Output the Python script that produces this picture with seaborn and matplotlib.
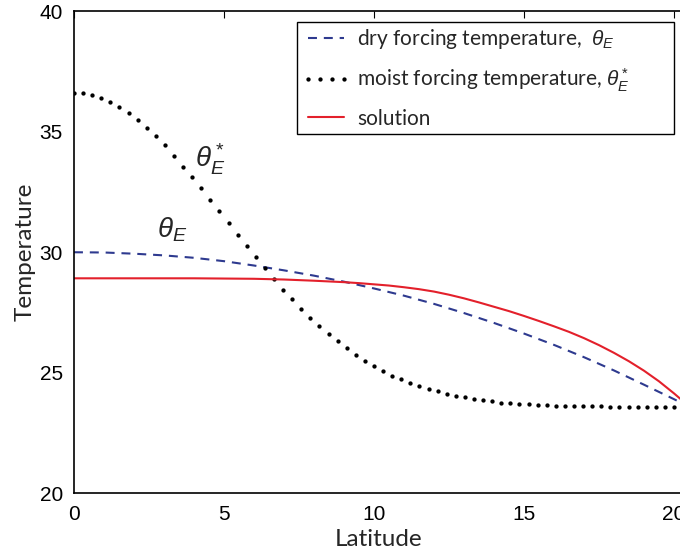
import numpy as np
import seaborn as sns
import matplotlib.pyplot as plt

# ---- data ----
lat = [0, 1, 2, 3, 4, 5, 6, 7, 8, 9, 10, 11, 12, 13, 14, 15, 16, 17, 18, 19, 20, 20.3]
dry_forcing = [30.00, 29.99, 29.94, 29.87, 29.77, 29.63, 29.45, 29.25, 29.03, 28.78, 28.50,
               28.20, 27.86, 27.48, 27.07, 26.63, 26.16, 25.65, 25.10, 24.51, 23.91, 23.72]

lat_sol = [0, 2, 4, 5, 6, 7, 8, 8.5, 9, 9.5, 10, 10.5, 11, 11.5, 12, 12.5, 13, 13.5, 14,
           14.5, 15, 15.5, 16, 16.5, 17, 17.5, 18, 18.5, 19, 19.5, 20, 20.3]
solution = [28.92, 28.92, 28.92, 28.91, 28.90, 28.87, 28.82, 28.79, 28.76, 28.72, 28.67,
            28.62, 28.55, 28.47, 28.37, 28.24, 28.09, 27.92, 27.74, 27.56, 27.36, 27.15,
            26.93, 26.70, 26.44, 26.15, 25.83, 25.48, 25.09, 24.65, 24.15, 23.83]

# moist forcing is drawn as dots on an evenly spaced latitude grid (67 points, 0..20)
lat_moist = np.linspace(0, 20, 67)
moist_forcing = [36.62, 36.60, 36.52, 36.39, 36.22, 36.02, 35.76, 35.47, 35.15, 34.81,
                 34.44, 33.99, 33.55, 33.10, 32.65, 32.17, 31.69, 31.21, 30.73, 30.27,
                 29.80, 29.34, 28.89, 28.42, 28.05, 27.65, 27.27, 26.93, 26.61, 26.31,
                 26.02, 25.75, 25.51, 25.29, 25.08, 24.89, 24.74, 24.58, 24.46, 24.34,
                 24.23, 24.14, 24.06, 23.99, 23.93, 23.87, 23.82, 23.77, 23.74, 23.71,
                 23.69, 23.67, 23.65, 23.64, 23.63, 23.63, 23.62, 23.61, 23.61, 23.60,
                 23.60, 23.60, 23.60, 23.60, 23.60, 23.60, 23.60]

x_ticks = [0, 5, 10, 15, 20]
y_ticks = [20, 25, 30, 35, 40]

sns.set_style("white")
plt.rcParams['mathtext.fontset'] = 'custom'
plt.rcParams['mathtext.it'] = 'Liberation Sans:italic'
plt.rcParams['mathtext.rm'] = 'Liberation Sans'

fig = plt.figure(figsize=(6.8, 5.53), dpi=100)
ax = fig.add_axes([0.1088, 0.1076, 0.8956, 0.8725])

sns.lineplot(x=lat, y=dry_forcing, ax=ax, color='#2e3a8f', linewidth=1.5,
             linestyle=(0, (4.3, 3.3)), label='dry forcing temperature,  $\\theta_E$')
sns.lineplot(x=lat_moist, y=moist_forcing, ax=ax, color='black', linestyle='',
             marker='o', markersize=3.1, markeredgewidth=0,
             label='moist forcing temperature, $\\theta_E^*$')
sns.lineplot(x=lat_sol, y=solution, ax=ax, color='#e3202b', linewidth=1.5, label='solution')

ax.set_xlim(0, 20.3)
ax.set_ylim(20, 40)
ax.set_xticks(x_ticks)
ax.set_yticks(y_ticks)
ax.tick_params(direction='in', length=5, width=0.8, top=True, right=False,
               labelsize=15, pad=8, colors='black')
for lbl in ax.get_xticklabels() + ax.get_yticklabels():
    lbl.set_fontfamily('Liberation Sans')
for sp in ax.spines.values():
    sp.set_color('black')
    sp.set_linewidth(1.2)

ax.set_xlabel('Latitude', fontsize=17.5, fontfamily='Lato', labelpad=4)
ax.set_ylabel('Temperature', fontsize=17.5, fontfamily='Lato', labelpad=3)

# curve annotations
ax.text(4.03, 33.5, '$\\theta_E^*$', fontsize=20, va='baseline', ha='left')
ax.text(2.77, 30.63, '$\\theta_E$', fontsize=20, va='baseline', ha='left')

# legend stretched to the same box as the reference (extra room on the right)
leg = ax.legend(loc='upper left', bbox_to_anchor=(0.3662, 0.5, 0.619, 0.4772),
                mode='expand', borderaxespad=0,
                numpoints=4, handlelength=2.3, handletextpad=0.35, labelspacing=0.72,
                borderpad=0.25, fancybox=False, framealpha=1,
                prop={'family': 'Lato', 'size': 15})
leg.get_frame().set_edgecolor('black')
leg.get_frame().set_linewidth(1.0)

plt.savefig('out.png', dpi=100)
